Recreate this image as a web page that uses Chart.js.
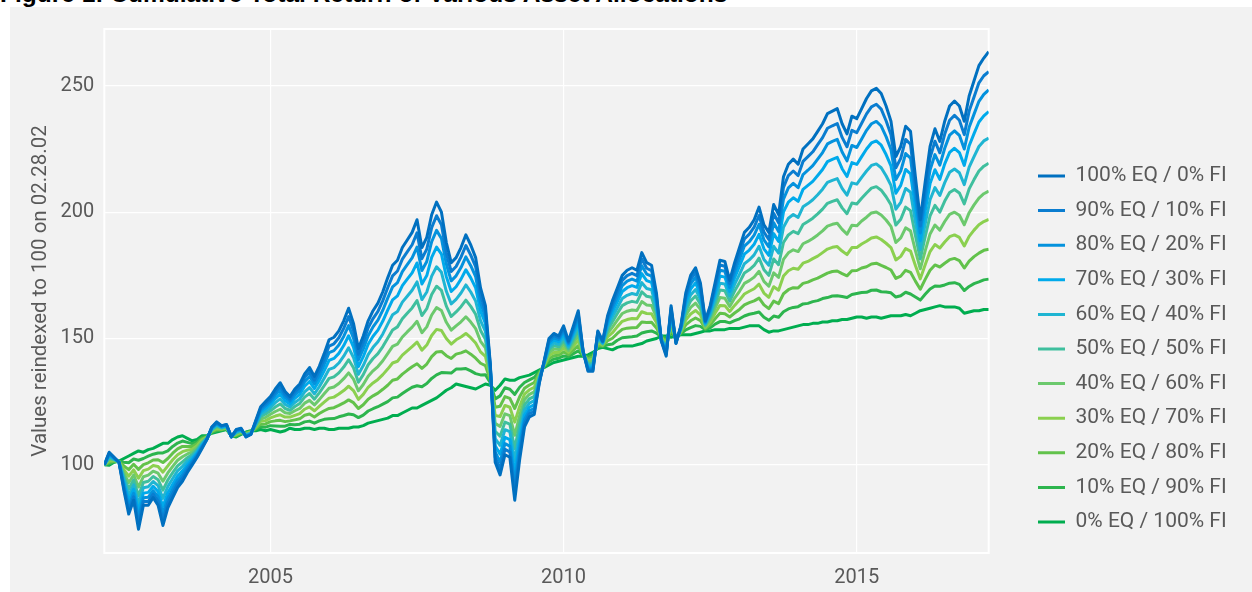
<!DOCTYPE html>
<html>
<head>
<meta charset="utf-8">
<title>Cumulative Total Return of Various Asset Allocations</title>
<script src="https://cdn.jsdelivr.net/npm/chart.js@4.4.1/dist/chart.umd.min.js"></script>
<style>
  html, body { margin: 0; padding: 0; background: #ffffff; width: 1252px; height: 592px; overflow: hidden; }
  #figTitle {
    position: absolute; left: 0; top: -20px; white-space: nowrap; color: #000000;
    font: bold 24.5px 'Liberation Sans', Arial, sans-serif;
  }
  #panel { position: absolute; left: 10px; top: 7px; width: 1242px; height: 585px; background: #f2f2f2; }
  canvas { display: block; }
</style>
</head>
<body>
<div id="figTitle">Figure 1: Cumulative Total Return of Various Asset Allocations</div>
<div id="panel"><canvas id="allocChart" width="1242" height="585"></canvas></div>
<script>
// Cumulative total return, monthly values (reindexed to 100 on 02.28.02)

// month-end dates, Feb 2002 .. Mar 2017
const firstMonth = [2002, 2];
const lastMonth = [2017, 3];

const xTickYears = [2005, 2010, 2015];
const yTickValues = [100, 150, 200, 250];
const yAxisTitle = 'Values reindexed to 100 on 02.28.02';

const seriesNames = [
    '100% EQ / 0% FI', '90% EQ / 10% FI', '80% EQ / 20% FI', '70% EQ / 30% FI',
    '60% EQ / 40% FI', '50% EQ / 50% FI', '40% EQ / 60% FI', '30% EQ / 70% FI',
    '20% EQ / 80% FI', '10% EQ / 90% FI', '0% EQ / 100% FI'
];

const eq100 = [
    100, 105, 103, 101, 90, 80.5, 86, 74.5, 84, 84,
    87, 84, 76, 83, 87, 91, 93.5, 97, 100, 103,
    106.5, 110, 115, 117, 115.5, 116, 111, 114, 114.5, 111,
    112, 117.5, 123, 125, 127, 130, 132.5, 129, 127, 130,
    132, 136, 138.5, 135, 139, 144, 149.5, 150.5, 153, 157,
    162, 156, 146, 151, 157, 161, 164, 168.5, 174, 179,
    181, 186, 189, 192, 197, 186, 190, 199, 204, 200,
    188, 180, 182, 186, 191, 187, 182, 170, 163, 140,
    101, 96, 104, 103, 86, 102, 115, 119, 120, 132,
    141, 150, 152, 151, 155, 149, 155, 161, 145, 137,
    137, 153, 149, 159, 165, 170, 175, 177, 178, 177,
    184, 180, 179, 168, 149, 143, 163, 148, 155, 168,
    175, 178, 172, 157, 163, 172, 181, 180.5, 173, 180,
    186, 192, 194, 197, 202, 195, 192, 203, 199, 214,
    219, 221, 219, 225, 227, 229, 232, 235, 239, 240,
    241, 235, 231, 238, 237, 241, 245, 248, 249, 247,
    242, 236, 222, 226, 234, 232, 214, 197, 212, 226,
    233, 228, 236, 242, 244, 242, 236, 246, 252, 258,
    261, 263.5
];

const eq90 = [
    100, 104.6, 102.9, 101.0, 90.9, 82.1, 87.3, 76.7, 85.5, 85.5,
    88.4, 85.6, 78.3, 84.8, 88.6, 92.4, 94.8, 97.9, 100.7, 103.5,
    106.9, 110.1, 114.8, 116.7, 115.4, 115.9, 111.0, 113.8, 114.3, 111.1,
    112.1, 117.2, 122.4, 124.2, 126.1, 128.8, 131.1, 127.9, 126.1, 128.9,
    130.7, 134.5, 136.8, 133.5, 137.3, 141.9, 147.0, 147.9, 150.3, 154.0,
    158.7, 153.1, 143.8, 148.5, 154.2, 157.9, 160.7, 165.0, 170.1, 174.8,
    176.7, 181.4, 184.3, 187.1, 191.8, 181.6, 185.4, 193.9, 198.6, 195.0,
    183.9, 176.5, 178.5, 182.2, 186.8, 183.0, 178.4, 167.3, 160.8, 139.4,
    103.0, 98.5, 106.1, 105.1, 89.3, 104.3, 116.4, 120.2, 121.2, 132.4,
    140.8, 149.3, 151.2, 150.3, 154.1, 148.5, 154.1, 159.7, 144.9, 137.5,
    137.5, 152.5, 148.8, 158.1, 163.6, 168.4, 173.0, 174.9, 175.8, 174.9,
    181.5, 177.8, 176.9, 166.7, 149.1, 143.6, 162.1, 148.2, 154.8, 166.8,
    173.4, 176.2, 170.6, 156.7, 162.3, 170.7, 179.1, 178.6, 171.7, 178.2,
    183.8, 189.4, 191.3, 194.1, 198.7, 192.1, 189.2, 199.5, 195.8, 209.8,
    214.5, 216.3, 214.5, 220.1, 222.0, 223.9, 226.7, 229.5, 233.2, 234.2,
    235.1, 229.6, 225.9, 232.4, 231.5, 235.2, 238.9, 241.7, 242.7, 240.8,
    236.2, 230.6, 217.6, 221.3, 228.8, 226.9, 210.2, 194.5, 208.5, 221.5,
    228.1, 223.5, 230.9, 236.4, 238.3, 236.4, 230.7, 240.0, 245.6, 251.2,
    254.0, 255.6
];

const eq80 = [
    100, 104.3, 102.7, 101.1, 91.8, 83.8, 88.7, 79.0, 87.0, 87.2,
    89.8, 87.4, 80.7, 86.7, 90.3, 93.9, 96.1, 99.0, 101.4, 104.0,
    107.2, 110.2, 114.6, 116.4, 115.2, 115.7, 111.1, 113.6, 114.1, 111.3,
    112.2, 116.9, 121.7, 123.3, 125.1, 127.6, 129.7, 126.8, 125.2, 127.7,
    129.4, 132.9, 135.0, 132.0, 135.4, 139.7, 144.4, 145.2, 147.4, 150.8,
    155.1, 150.1, 141.5, 145.9, 151.1, 154.6, 157.3, 161.2, 166.0, 170.4,
    172.1, 176.5, 179.2, 181.9, 186.2, 176.9, 180.5, 188.3, 192.8, 189.6,
    179.5, 172.8, 174.8, 178.1, 182.3, 178.8, 174.5, 164.3, 158.5, 138.8,
    105.1, 101.1, 108.4, 107.4, 92.9, 106.7, 117.9, 121.4, 122.4, 132.8,
    140.6, 148.5, 150.3, 149.6, 153.0, 148.0, 153.2, 158.4, 144.7, 137.9,
    138.1, 152.0, 148.6, 157.1, 162.2, 166.6, 170.9, 172.7, 173.5, 172.7,
    178.8, 175.5, 174.7, 165.4, 149.3, 144.2, 161.2, 148.4, 154.5, 165.6,
    171.6, 174.2, 169.2, 156.4, 161.6, 169.3, 177.0, 176.6, 170.2, 176.2,
    181.4, 186.6, 188.3, 190.9, 195.2, 189.0, 186.3, 195.8, 192.3, 205.2,
    209.6, 211.4, 209.7, 214.9, 216.6, 218.4, 221.0, 223.6, 227.0, 228.0,
    228.8, 223.8, 220.3, 226.4, 225.6, 229.0, 232.4, 235.0, 235.9, 234.1,
    229.9, 224.8, 212.9, 216.3, 223.2, 221.4, 206.2, 191.8, 204.7, 216.7,
    222.8, 218.6, 225.3, 230.5, 232.2, 230.4, 225.0, 233.6, 238.8, 243.9,
    246.6, 248.4
];

const eq70 = [
    100, 103.8, 102.5, 101.1, 92.9, 85.8, 90.3, 81.6, 88.8, 89.1,
    91.5, 89.4, 83.5, 88.9, 92.3, 95.6, 97.6, 100.1, 102.2, 104.6,
    107.7, 110.3, 114.4, 116.1, 115.0, 115.5, 111.1, 113.3, 113.9, 111.5,
    112.3, 116.6, 120.9, 122.4, 124.0, 126.2, 128.0, 125.4, 124.1, 126.3,
    127.9, 131.1, 133.0, 130.2, 133.4, 137.2, 141.3, 142.1, 144.1, 147.2,
    151.1, 146.6, 138.9, 142.8, 147.7, 150.9, 153.3, 156.9, 161.2, 165.3,
    166.9, 170.9, 173.5, 176.0, 179.9, 171.6, 174.9, 182.1, 186.2, 183.4,
    174.5, 168.6, 170.5, 173.5, 177.2, 174.0, 170.0, 161.0, 155.9, 138.0,
    107.6, 104.2, 110.9, 110.0, 96.9, 109.5, 119.6, 122.8, 123.8, 133.3,
    140.4, 147.6, 149.4, 148.7, 151.9, 147.4, 152.1, 156.9, 144.5, 138.5,
    138.7, 151.4, 148.4, 156.0, 160.5, 164.6, 168.6, 170.1, 170.9, 170.2,
    175.7, 172.9, 172.2, 163.9, 149.5, 144.8, 160.1, 148.7, 154.2, 164.2,
    169.6, 172.0, 167.5, 156.1, 160.7, 167.7, 174.7, 174.3, 168.6, 174.0,
    178.6, 183.4, 185.0, 187.3, 191.2, 185.5, 182.9, 191.5, 188.4, 200.1,
    204.0, 205.7, 204.3, 209.0, 210.6, 212.2, 214.5, 216.9, 220.0, 220.9,
    221.7, 217.2, 214.1, 219.6, 218.9, 222.0, 225.0, 227.4, 228.2, 226.5,
    222.8, 218.3, 207.5, 210.6, 216.9, 215.2, 201.6, 188.7, 200.4, 211.3,
    216.8, 213.0, 219.1, 223.7, 225.3, 223.6, 218.5, 226.3, 231.1, 235.7,
    238.1, 239.8
];

const eq60 = [
    100, 103.3, 102.3, 101.2, 94.1, 88.1, 92.1, 84.7, 90.9, 91.3,
    93.4, 91.8, 86.7, 91.4, 94.6, 97.6, 99.4, 101.5, 103.1, 105.3,
    108.2, 110.5, 114.2, 115.7, 114.8, 115.3, 111.2, 113.0, 113.7, 111.7,
    112.5, 116.2, 120.0, 121.2, 122.7, 124.6, 126.1, 123.9, 122.9, 124.7,
    126.1, 128.9, 130.6, 128.1, 130.9, 134.3, 137.8, 138.5, 140.3, 143.0,
    146.3, 142.5, 135.8, 139.3, 143.6, 146.5, 148.7, 151.8, 155.7, 159.4,
    160.7, 164.4, 166.7, 169.1, 172.4, 165.4, 168.4, 174.7, 178.4, 176.2,
    168.7, 163.7, 165.5, 168.0, 171.2, 168.4, 164.8, 157.1, 152.8, 137.2,
    110.4, 107.7, 113.9, 113.1, 101.7, 112.7, 121.6, 124.4, 125.4, 133.8,
    140.2, 146.5, 148.2, 147.7, 150.5, 146.7, 150.9, 155.1, 144.3, 139.1,
    139.5, 150.7, 148.2, 154.7, 158.6, 162.2, 165.8, 167.1, 167.8, 167.3,
    172.1, 169.8, 169.3, 162.1, 149.7, 145.6, 158.9, 149.0, 153.8, 162.6,
    167.2, 169.4, 165.6, 155.7, 159.7, 165.9, 171.9, 171.6, 166.7, 171.4,
    175.4, 179.6, 181.1, 183.1, 186.5, 181.3, 179.0, 186.5, 183.8, 194.0,
    197.6, 199.1, 197.9, 202.1, 203.4, 204.9, 206.9, 209.1, 211.8, 212.6,
    213.3, 209.4, 206.7, 211.6, 211.1, 213.8, 216.3, 218.5, 219.1, 217.6,
    214.4, 210.6, 201.2, 203.9, 209.4, 207.9, 196.2, 185.1, 195.3, 204.9,
    209.7, 206.6, 211.7, 215.8, 217.1, 215.6, 210.9, 217.8, 222.0, 226.0,
    228.2, 229.3
];

const eq50 = [
    100, 102.8, 102.1, 101.2, 95.4, 90.4, 94.0, 87.8, 93.0, 93.5,
    95.4, 94.1, 90.0, 94.0, 96.9, 99.6, 101.2, 102.8, 104.1, 106.0,
    108.7, 110.6, 113.9, 115.3, 114.6, 115.1, 111.2, 112.7, 113.4, 111.9,
    112.6, 115.8, 119.1, 120.1, 121.4, 122.9, 124.1, 122.3, 121.6, 123.1,
    124.3, 126.8, 128.2, 126.0, 128.5, 131.3, 134.2, 134.8, 136.4, 138.7,
    141.6, 138.4, 132.7, 135.7, 139.6, 142.1, 144.0, 146.8, 150.1, 153.4,
    154.6, 157.8, 160.0, 162.1, 165.0, 159.1, 161.8, 167.4, 170.7, 169.0,
    162.8, 158.7, 160.5, 162.6, 165.2, 162.7, 159.6, 153.2, 149.7, 136.3,
    113.3, 111.3, 116.9, 116.1, 106.4, 116.0, 123.6, 126.1, 127.1, 134.4,
    139.9, 145.5, 147.1, 146.7, 149.2, 146.0, 149.6, 153.3, 144.1, 139.8,
    140.2, 150.0, 147.9, 153.4, 156.6, 159.9, 163.0, 164.1, 164.7, 164.3,
    168.5, 166.7, 166.3, 160.3, 149.9, 146.4, 157.6, 149.3, 153.5, 160.9,
    164.9, 166.8, 163.6, 155.3, 158.7, 164.0, 169.2, 168.9, 164.8, 168.8,
    172.2, 175.9, 177.2, 178.9, 181.8, 177.2, 175.0, 181.5, 179.2, 188.0,
    191.0, 192.4, 191.5, 195.1, 196.3, 197.6, 199.3, 201.2, 203.5, 204.3,
    204.9, 201.7, 199.4, 203.6, 203.2, 205.5, 207.6, 209.5, 210.1, 208.7,
    206.1, 202.9, 194.9, 197.2, 202.0, 200.6, 190.8, 181.5, 190.3, 198.5,
    202.7, 200.0, 204.4, 207.8, 209.0, 207.6, 203.3, 209.2, 212.9, 216.3,
    218.2, 219.4
];

const eq40 = [
    100, 102.2, 101.9, 101.3, 96.8, 92.9, 96.0, 91.2, 95.3, 95.9,
    97.5, 96.7, 93.5, 96.8, 99.4, 101.8, 103.2, 104.3, 105.1, 106.8,
    109.2, 110.8, 113.7, 114.8, 114.4, 114.9, 111.3, 112.4, 113.2, 112.1,
    112.8, 115.3, 118.1, 118.8, 120.0, 121.1, 122.0, 120.6, 120.3, 121.4,
    122.3, 124.4, 125.5, 123.7, 125.8, 128.1, 130.3, 130.8, 132.2, 134.1,
    136.4, 133.9, 129.3, 131.8, 135.1, 137.2, 138.9, 141.2, 144.0, 146.9,
    147.8, 150.6, 152.6, 154.5, 156.8, 152.3, 154.6, 159.3, 162.2, 161.1,
    156.4, 153.3, 155.0, 156.6, 158.6, 156.5, 153.9, 148.9, 146.3, 135.4,
    116.4, 115.2, 120.2, 119.5, 111.7, 119.5, 125.8, 127.9, 128.9, 135.0,
    139.7, 144.3, 145.8, 145.6, 147.7, 145.2, 148.3, 151.3, 143.9, 140.5,
    141.0, 149.2, 147.7, 152.0, 154.5, 157.3, 159.9, 160.8, 161.3, 161.1,
    164.6, 163.3, 163.1, 158.3, 150.1, 147.3, 156.3, 149.6, 153.1, 159.1,
    162.3, 164.0, 161.5, 154.8, 157.6, 162.0, 166.2, 165.9, 162.7, 166.0,
    168.7, 171.8, 172.9, 174.3, 176.6, 172.6, 170.7, 176.0, 174.2, 181.3,
    183.9, 185.1, 184.4, 187.5, 188.4, 189.6, 191.0, 192.6, 194.5, 195.2,
    195.6, 193.2, 191.3, 194.8, 194.6, 196.5, 198.0, 199.7, 200.1, 198.9,
    196.9, 194.4, 188.0, 189.8, 193.8, 192.6, 184.8, 177.6, 184.7, 191.4,
    194.9, 192.9, 196.3, 199.1, 200.0, 198.8, 195.0, 199.8, 202.9, 205.6,
    207.3, 208.3
];

const eq30 = [
    100, 101.6, 101.7, 101.3, 98.1, 95.5, 98.0, 94.7, 97.7, 98.3,
    99.7, 99.3, 97.1, 99.6, 102.0, 104.0, 105.2, 105.8, 106.2, 107.6,
    109.8, 111.0, 113.4, 114.4, 114.2, 114.7, 111.3, 112.1, 112.9, 112.3,
    113.0, 114.9, 117.2, 117.5, 118.6, 119.3, 119.8, 118.9, 118.9, 119.6,
    120.3, 122.0, 122.9, 121.4, 123.1, 124.8, 126.4, 126.8, 128.0, 129.4,
    131.1, 129.4, 125.9, 127.9, 130.7, 132.4, 133.8, 135.7, 137.9, 140.3,
    141.0, 143.4, 145.1, 146.8, 148.6, 145.4, 147.4, 151.2, 153.6, 153.2,
    150.0, 147.8, 149.5, 150.6, 152.0, 150.3, 148.2, 144.7, 142.9, 134.5,
    119.5, 119.1, 123.5, 122.8, 116.9, 123.1, 128.0, 129.7, 130.7, 135.6,
    139.4, 143.2, 144.5, 144.5, 146.2, 144.5, 146.9, 149.3, 143.7, 141.2,
    141.9, 148.5, 147.4, 150.6, 152.3, 154.7, 156.8, 157.5, 157.9, 157.8,
    160.6, 159.9, 159.8, 156.3, 150.3, 148.2, 154.9, 150.0, 152.7, 157.3,
    159.7, 161.1, 159.3, 154.4, 156.5, 160.0, 163.1, 163.0, 160.7, 163.1,
    165.2, 167.6, 168.7, 169.7, 171.5, 168.0, 166.3, 170.5, 169.1, 174.7,
    176.8, 177.8, 177.4, 179.8, 180.5, 181.6, 182.6, 184.0, 185.4, 186.1,
    186.4, 184.6, 183.2, 186.0, 186.0, 187.4, 188.5, 189.8, 190.2, 189.2,
    187.7, 186.0, 181.1, 182.5, 185.6, 184.6, 178.9, 173.6, 179.2, 184.4,
    187.2, 185.8, 188.2, 190.3, 191.0, 190.0, 186.6, 190.4, 192.9, 195.0,
    196.3, 197.1
];

const eq20 = [
    100, 101.0, 101.5, 101.4, 99.6, 98.1, 100.2, 98.2, 100.1, 100.8,
    101.9, 102.0, 100.9, 102.5, 104.6, 106.3, 107.3, 107.3, 107.3, 108.4,
    110.3, 111.1, 113.1, 113.9, 114.0, 114.5, 111.4, 111.7, 112.6, 112.5,
    113.1, 114.4, 116.1, 116.2, 117.1, 117.4, 117.6, 117.1, 117.4, 117.8,
    118.2, 119.6, 120.1, 118.9, 120.3, 121.4, 122.3, 122.6, 123.5, 124.5,
    125.7, 124.6, 122.3, 123.8, 126.0, 127.3, 128.4, 129.9, 131.5, 133.5,
    134.0, 135.9, 137.4, 138.8, 140.0, 138.2, 139.9, 142.8, 144.7, 144.9,
    143.2, 142.1, 143.8, 144.3, 145.1, 143.8, 142.2, 140.2, 139.3, 133.5,
    122.8, 123.2, 127.0, 126.3, 122.3, 126.9, 130.3, 131.6, 132.6, 136.2,
    139.1, 142.0, 143.2, 143.4, 144.7, 143.6, 145.4, 147.2, 143.5, 142.0,
    142.7, 147.6, 147.1, 149.1, 150.1, 152.0, 153.6, 154.1, 154.3, 154.4,
    156.5, 156.3, 156.4, 154.2, 150.5, 149.1, 153.4, 150.3, 152.3, 155.4,
    157.0, 158.1, 157.1, 153.9, 155.4, 157.8, 160.0, 159.8, 158.5, 160.1,
    161.5, 163.3, 164.2, 164.9, 166.0, 163.3, 161.8, 164.8, 163.8, 167.7,
    169.3, 170.1, 170.0, 171.8, 172.3, 173.2, 173.9, 174.9, 175.9, 176.5,
    176.7, 175.7, 174.8, 176.8, 176.9, 177.9, 178.4, 179.5, 179.8, 178.9,
    178.1, 177.1, 173.8, 174.7, 177.0, 176.2, 172.7, 169.5, 173.4, 177.0,
    179.1, 178.3, 179.8, 181.2, 181.7, 180.8, 177.9, 180.6, 182.4, 183.8,
    184.9, 185.3
];

const eq10 = [
    100, 100.4, 101.2, 101.4, 101.0, 100.8, 102.3, 101.8, 102.5, 103.4,
    104.2, 104.7, 104.7, 105.5, 107.3, 108.6, 109.4, 108.9, 108.4, 109.2,
    110.9, 111.3, 112.8, 113.5, 113.7, 114.2, 111.4, 111.4, 112.3, 112.8,
    113.3, 114.0, 115.1, 114.9, 115.5, 115.4, 115.3, 115.3, 116.0, 115.9,
    116.1, 117.0, 117.3, 116.5, 117.4, 118.0, 118.2, 118.3, 119.0, 119.5,
    120.1, 119.8, 118.7, 119.7, 121.3, 122.2, 123.0, 124.0, 125.0, 126.5,
    126.8, 128.2, 129.5, 130.7, 131.3, 130.9, 132.2, 134.2, 135.6, 136.5,
    136.4, 136.3, 137.9, 137.9, 138.1, 137.2, 136.1, 135.6, 135.7, 132.5,
    126.1, 127.3, 130.5, 129.9, 127.9, 130.7, 132.6, 133.6, 134.6, 136.9,
    138.8, 140.7, 141.9, 142.2, 143.1, 142.8, 144.0, 145.1, 143.2, 142.7,
    143.6, 146.8, 146.8, 147.5, 147.8, 149.3, 150.3, 150.5, 150.7, 151.0,
    152.2, 152.7, 153.0, 152.1, 150.8, 150.1, 152.0, 150.6, 151.9, 153.4,
    154.3, 155.1, 154.8, 153.5, 154.2, 155.7, 156.7, 156.7, 156.2, 157.1,
    157.8, 158.9, 159.6, 160.0, 160.5, 158.4, 157.2, 158.9, 158.4, 160.6,
    161.7, 162.3, 162.6, 163.7, 163.9, 164.6, 165.0, 165.8, 166.2, 166.8,
    166.9, 166.6, 166.2, 167.4, 167.8, 168.2, 168.3, 169.1, 169.2, 168.5,
    168.4, 168.1, 166.4, 166.9, 168.3, 167.6, 166.4, 165.2, 167.5, 169.6,
    170.8, 170.7, 171.2, 171.9, 172.1, 171.4, 169.0, 170.6, 171.7, 172.4,
    173.2, 173.5
];

const eq0 = [
    100, 99.8, 101, 101.5, 102.5, 103.5, 104.5, 105.5, 105, 106,
    106.5, 107.5, 108.5, 108.5, 110, 111, 111.5, 110.5, 109.5, 110,
    111.5, 111.5, 112.5, 113, 113.5, 114, 111.5, 111, 112, 113,
    113.5, 113.5, 114, 113.5, 114, 113.5, 113, 113.5, 114.5, 114,
    114, 114.5, 114.5, 114, 114.5, 114.5, 114, 114, 114.5, 114.5,
    114.5, 115, 115, 115.5, 116.5, 117, 117.5, 118, 118.5, 119.5,
    119.5, 120.5, 121.5, 122.5, 122.5, 123.5, 124.5, 125.5, 126.5, 128,
    129.5, 130.5, 132, 131.5, 131, 130.5, 130, 131, 132, 131.5,
    129.5, 131.5, 134, 133.5, 133.5, 134.5, 135, 135.5, 136.5, 137.5,
    138.5, 139.5, 140.5, 141, 141.5, 142, 142.5, 143, 143, 143.5,
    144.5, 146, 146.5, 146, 145.5, 146.5, 147, 147, 147, 147.5,
    148, 149, 149.5, 150, 151, 151, 150.5, 151, 151.5, 151.5,
    151.5, 152, 152.5, 153, 153, 153.5, 153.5, 153.5, 154, 154,
    154, 154.5, 155, 155, 155, 153.5, 152.5, 153, 153, 153.5,
    154, 154.5, 155, 155.5, 155.5, 156, 156, 156.5, 156.5, 157,
    157, 157.5, 157.5, 158, 158.5, 158.5, 158, 158.5, 158.5, 158,
    158.5, 159, 159, 159, 159.5, 159, 160, 161, 161.5, 162,
    162.5, 163, 162.5, 162.5, 162.5, 162, 160, 160.5, 161, 161,
    161.5, 161.5
];

const seriesValues = [eq100, eq90, eq80, eq70, eq60, eq50, eq40, eq30, eq20, eq10, eq0];

const seriesColors = [
    '#0070c0', '#0a7dd0', '#0492dd', '#00aaeb', '#1fb5d2', '#3fbf9e',
    '#6cc96d', '#8bd04f', '#62c24b', '#2db54e', '#00ad4f'
];

// ---- layout / style constants (canvas pixels) ----
const FONT_FAMILY = "Roboto, 'Liberation Sans', sans-serif";
const TEXT_COLOR = '#595959';
const LEGEND_BOX_WIDTH = 263.3;
const LEGEND_ITEM_LEFT = 1028;
const LEGEND_ITEM_TOP = 158.5;

// month-end dates as decimal years (Dec end = next year .0)
const monthEnds = [];
for (let y = firstMonth[0], m = firstMonth[1]; y < lastMonth[0] || (y === lastMonth[0] && m <= lastMonth[1]); ) {
    monthEnds.push(y + m / 12);
    m++;
    if (m > 12) { m = 1; y++; }
}

const legendPlacement = {
    id: 'legendPlacement',
    beforeLayout(chart) {
        const lg = chart.legend;
        if (lg && !lg._fixedWidth) {
            const fit = lg.fit;
            lg.fit = function () {
                fit.call(this);
                this.width = LEGEND_BOX_WIDTH;
            };
            lg._fixedWidth = true;
        }
    },
    afterLayout(chart) {
        const lg = chart.legend;
        const pad = lg.options.labels.padding;
        lg.left = LEGEND_ITEM_LEFT - pad;
        lg.right = lg.left + lg.width;
        lg.top = LEGEND_ITEM_TOP - pad;
        lg.bottom = lg.top + lg.height;
    }
};

const plotFrame = {
    id: 'plotFrame',
    beforeDatasetsDraw(chart) {
        const { ctx, chartArea } = chart;
        ctx.save();
        ctx.strokeStyle = '#ffffff';
        ctx.lineWidth = 2;
        ctx.strokeRect(chartArea.left, chartArea.top, chartArea.right - chartArea.left, chartArea.bottom - chartArea.top);
        ctx.restore();
    }
};

Chart.defaults.font.family = FONT_FAMILY;
Chart.defaults.color = TEXT_COLOR;

const datasets = seriesNames.map((name, i) => ({
    label: name,
    data: seriesValues[i].map((v, j) => ({ x: monthEnds[j], y: v })),
    borderColor: seriesColors[i],
    backgroundColor: seriesColors[i],
    borderWidth: 3,
    borderJoinStyle: 'round',
    pointRadius: 0,
    pointHoverRadius: 0,
    tension: 0,
    fill: false
}));

new Chart(document.getElementById('allocChart'), {
    type: 'line',
    data: { datasets: datasets },
    options: {
        responsive: false,
        animation: false,
        layout: { padding: { top: 19.7, left: 0, right: 0, bottom: 0 } },
        scales: {
            x: {
                type: 'linear',
                min: monthEnds[0],
                max: monthEnds[monthEnds.length - 1],
                afterBuildTicks: (axis) => { axis.ticks = xTickYears.map(v => ({ value: v })); },
                afterFit: (axis) => { axis.height = 39; },
                grid: { color: '#ffffff', lineWidth: 1.2, drawTicks: false },
                border: { display: false },
                ticks: {
                    font: { size: 20 },
                    color: TEXT_COLOR,
                    padding: 13,
                    maxRotation: 0,
                    callback: (v) => String(v)
                }
            },
            y: {
                min: 65.1,
                max: 272.5,
                afterBuildTicks: (axis) => { axis.ticks = yTickValues.map(v => ({ value: v })); },
                afterFit: (axis) => { axis.width = 94.3; },
                grid: { color: '#ffffff', lineWidth: 1.2, drawTicks: false },
                border: { display: false },
                ticks: {
                    font: { size: 20 },
                    color: TEXT_COLOR,
                    padding: 10,
                    callback: (v) => String(v)
                },
                title: {
                    display: true,
                    text: yAxisTitle,
                    color: TEXT_COLOR,
                    font: { size: 20.5 },
                    padding: { top: 18.7, bottom: 0 }
                }
            }
        },
        plugins: {
            legend: {
                position: 'right',
                align: 'start',
                labels: {
                    usePointStyle: true,
                    pointStyle: 'line',
                    pointStyleWidth: 27,
                    padding: 13.6,
                    color: TEXT_COLOR,
                    font: { size: 21 }
                }
            },
            tooltip: { enabled: false }
        }
    },
    plugins: [legendPlacement, plotFrame]
});
</script>
</body>
</html>
